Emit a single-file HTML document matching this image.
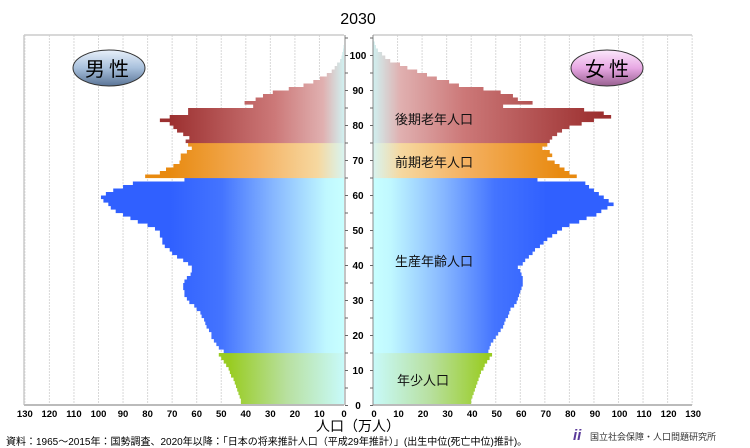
<!DOCTYPE html>
<html><head><meta charset="utf-8"><style>
body{margin:0;background:#fff;width:750px;height:448px;overflow:hidden}
svg{display:block}
text{font-family:"Liberation Sans","Noto Sans CJK JP",sans-serif}
</style></head><body>
<svg id="s" width="750" height="448" viewBox="0 0 750 448" xmlns="http://www.w3.org/2000/svg">
<defs>
<linearGradient id="mb" gradientUnits="userSpaceOnUse" x1="344" y1="0" x2="170" y2="0"><stop offset="0" stop-color="#c8ffff"/><stop offset="0.1" stop-color="#c0f8ff"/><stop offset="0.4" stop-color="#88b8ff"/><stop offset="0.7" stop-color="#4474ff"/><stop offset="1" stop-color="#3060ff"/></linearGradient>
<linearGradient id="fb" gradientUnits="userSpaceOnUse" x1="373" y1="0" x2="547" y2="0"><stop offset="0" stop-color="#c8ffff"/><stop offset="0.1" stop-color="#c0f8ff"/><stop offset="0.4" stop-color="#88b8ff"/><stop offset="0.7" stop-color="#4474ff"/><stop offset="1" stop-color="#3060ff"/></linearGradient>
<linearGradient id="mg" gradientUnits="userSpaceOnUse" x1="344" y1="0" x2="230" y2="0"><stop offset="0" stop-color="#c8fafa"/><stop offset="0.5" stop-color="#b8e0a0"/><stop offset="1" stop-color="#99cc22"/></linearGradient>
<linearGradient id="fg" gradientUnits="userSpaceOnUse" x1="373" y1="0" x2="487" y2="0"><stop offset="0" stop-color="#c8fafa"/><stop offset="0.5" stop-color="#b8e0a0"/><stop offset="1" stop-color="#99cc22"/></linearGradient>
<linearGradient id="mo" gradientUnits="userSpaceOnUse" x1="344" y1="0" x2="170" y2="0"><stop offset="0" stop-color="#d8f4f0"/><stop offset="0.15" stop-color="#f6d8a0"/><stop offset="0.5" stop-color="#f4b060"/><stop offset="1" stop-color="#e88a10"/></linearGradient>
<linearGradient id="fo" gradientUnits="userSpaceOnUse" x1="373" y1="0" x2="560" y2="0"><stop offset="0" stop-color="#d8f4f0"/><stop offset="0.15" stop-color="#f6d8a0"/><stop offset="0.5" stop-color="#f4b060"/><stop offset="1" stop-color="#e88a10"/></linearGradient>
<linearGradient id="mr" gradientUnits="userSpaceOnUse" x1="344" y1="0" x2="170" y2="0"><stop offset="0" stop-color="#d0f0f0"/><stop offset="0.12" stop-color="#e0b0b0"/><stop offset="0.4" stop-color="#cc7878"/><stop offset="1" stop-color="#9c3030"/></linearGradient>
<linearGradient id="fr" gradientUnits="userSpaceOnUse" x1="373" y1="0" x2="600" y2="0"><stop offset="0" stop-color="#d0f0f0"/><stop offset="0.12" stop-color="#e0b0b0"/><stop offset="0.4" stop-color="#cc7878"/><stop offset="1" stop-color="#9c3030"/></linearGradient>
<linearGradient id="ov1" x1="0" y1="0" x2="0" y2="1"><stop offset="0" stop-color="#e8f0fa"/><stop offset="0.5" stop-color="#a8c0dc"/><stop offset="1" stop-color="#5a7496"/></linearGradient>
<linearGradient id="ov2" x1="0" y1="0" x2="0" y2="1"><stop offset="0" stop-color="#fbe8fb"/><stop offset="0.5" stop-color="#e8a8e4"/><stop offset="1" stop-color="#986090"/></linearGradient>
</defs>
<text x="358" y="24" font-size="16" text-anchor="middle">2030</text>
<g id="grid"></g>
<g id="bars"></g>
<g id="ax"></g>
<ellipse cx="109" cy="68" rx="36" ry="18" fill="url(#ov1)" stroke="#333" stroke-width="1"/>
<text x="109" y="76" font-size="20" text-anchor="middle" letter-spacing="4">男性</text>
<ellipse cx="607" cy="68" rx="36" ry="18" fill="url(#ov2)" stroke="#333" stroke-width="1"/>
<text x="609" y="76" font-size="20" text-anchor="middle" letter-spacing="4">女性</text>
<g font-size="13" fill="#111">
<text x="395" y="124">後期老年人口</text>
<text x="395" y="167">前期老年人口</text>
<text x="395" y="266">生産年齢人口</text>
<text x="397" y="385">年少人口</text>
</g>
<text x="358" y="431" font-size="14" text-anchor="middle">人口（万人）</text>
<text x="6" y="445" font-size="10">資料：1965～2015年：国勢調査、2020年以降：「日本の将来推計人口（平成29年推計）」(出生中位(死亡中位)推計)。</text>
<text x="573" y="440" font-size="15" fill="#5a3a9a" font-style="italic" font-weight="bold">ii</text>
<text x="590" y="440" font-size="9" fill="#333">国立社会保障・人口問題研究所</text>
</svg>
<script>
var M=[42,42,42.5,43,43.5,44,44.5,45,46,46.5,47,48,49,50,51,
49,51,52,53,54,54,55,56,56.5,57,58,58.5,60,61,63,64,65,65,65.5,65.5,65,64,62.5,62,62,63.5,65.5,68,70,71,73,74,74,75,75,77,80,84,87,90,93,95,96,98,99,97,94,90,86,65,
81,75,72.5,69.5,67,66.5,66.5,64,62,63.5,
64.5,63,65.5,68,69.5,71,75,71,63.5,63.5,
37,40.5,36,33,29,22.5,16.5,12.5,9.8,7,5,3.8,2.8,1.6,1,0.7,0.4,0.2];
var F=[40,40,40.5,41,41.5,42,42.5,43,43.5,44,45,45.5,46.5,47.5,48.5,
47,47.5,48,49,50,51,52,53,53.5,54,55,55.5,56,57.5,58.5,59,59.5,60,60.5,61,61,61,60.5,60,59,61,62,63.5,65,66,68,69.5,71,73,75,77,80,84,87,91,93,95.5,98,96,94,92,90,88,86.5,67,
83,80,78,76,74,71,73,72,69,71,
72,73,75,77,80,85,90,97,94,86,
53,65,59,57,52,45,35,31,26,22,18,14,11,7,5,3.7,2,1.2,0.7,0.3];
var ns="http://www.w3.org/2000/svg";
function el(p,t,a){var e=document.createElementNS(ns,t);for(var k in a)e.setAttribute(k,a[k]);p.appendChild(e);return e;}
var g=document.getElementById('grid'),b=document.getElementById('bars'),ax=document.getElementById('ax');
var S=2.455;
for(var i=1;i<=13;i++){
 el(g,'line',{x1:344-i*S*10,y1:35,x2:344-i*S*10,y2:405,stroke:'#d8d8d8','stroke-dasharray':'2,1','stroke-width':1});
 el(g,'line',{x1:373+i*S*10,y1:35,x2:373+i*S*10,y2:405,stroke:'#d8d8d8','stroke-dasharray':'2,1','stroke-width':1});
}
el(g,'line',{x1:24,y1:35,x2:344,y2:35,stroke:'#ccc','stroke-width':1.5});
el(g,'line',{x1:373,y1:35,x2:692,y2:35,stroke:'#ccc','stroke-width':1.5});
el(g,'line',{x1:24,y1:35,x2:24,y2:405,stroke:'#ccc','stroke-width':1.5});
function col(a,s){return 'url(#'+s+(a<15?'g':a<65?'b':a<75?'o':'r')+')';}
for(var a=0;a<M.length;a++){
 var y=405.5-(a+1)*3.5;
 el(b,'rect',{x:344-M[a]*S,y:y,width:M[a]*S,height:3.6,fill:col(a,'m')});
}
for(var a=0;a<F.length;a++){
 var y=405.5-(a+1)*3.5;
 el(b,'rect',{x:373,y:y,width:F[a]*S,height:3.6,fill:col(a,'f')});
}
el(ax,'line',{x1:24,y1:405,x2:344,y2:405,stroke:'#bbb','stroke-width':2});
el(ax,'line',{x1:373,y1:405,x2:692,y2:405,stroke:'#bbb','stroke-width':2});
el(ax,'line',{x1:345,y1:35,x2:345,y2:405,stroke:'#888','stroke-width':1});
el(ax,'line',{x1:373,y1:35,x2:373,y2:405,stroke:'#888','stroke-width':1});
for(var a=0;a<=105;a+=5){
 var y=405.5-a*3.5;
 el(ax,'line',{x1:345,y1:y,x2:348,y2:y,stroke:'#666'});
 el(ax,'line',{x1:370,y1:y,x2:373,y2:y,stroke:'#666'});
 if(a%10==0&&a<=100){var t=el(ax,'text',{x:358,y:y+3.5,'font-size':10,'font-weight':'bold','text-anchor':'middle'});t.textContent=a;}
}
for(var i=0;i<=13;i++){
 var t=el(ax,'text',{x:344-i*S*10,y:417,'font-size':9.5,'font-weight':'bold','text-anchor':'middle'});t.textContent=i*10;
 t=el(ax,'text',{x:374+i*S*10,y:417,'font-size':9.5,'font-weight':'bold','text-anchor':'middle'});t.textContent=i*10;
}
</script>
</body></html>
